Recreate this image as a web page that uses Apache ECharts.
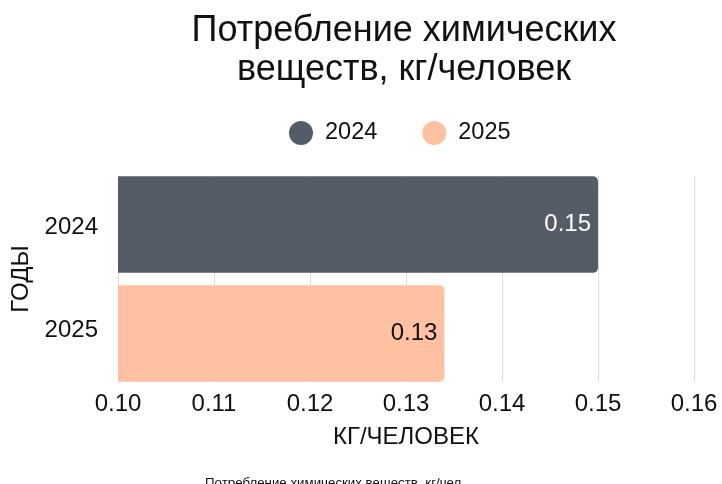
<!DOCTYPE html>
<html><head><meta charset="utf-8">
<script src="https://cdn.jsdelivr.net/npm/echarts@6/dist/echarts.min.js"></script>
<style>html,body{margin:0;padding:0;background:#fff}#c{width:722px;height:484px}</style>
</head><body><div id="c"></div>
<script>
const categories = ['2024', '2025'];
const seriesNames = ['2024', '2025'];
const values2024 = [0.15, '-'];
const values2025 = ['-', 0.134];
const xTicks = [0.10, 0.11, 0.12, 0.13, 0.14, 0.15, 0.16];
const colors = ['#545d67', '#ffc1a2'];
const labelColors = ['#ffffff', '#111111'];

const chart = echarts.init(document.getElementById('c'));
const font = "'Liberation Sans', Arial, sans-serif";
chart.setOption({
  animation: false,
  textStyle: { fontFamily: font },
  title: [{
    text: 'Потребление химических\nвеществ, кг/человек',
    left: 399, top: 7, textAlign: 'center',
    textStyle: { fontSize: 36, fontWeight: 'normal', color: '#111', lineHeight: 39, fontFamily: font }
  }, {
    text: 'Потребление химических веществ, кг/чел.',
    left: 330, top: 472, textAlign: 'center',
    textStyle: { fontSize: 13.3, fontWeight: 'normal', color: '#111', fontFamily: font }
  }],
  legend: {
    data: seriesNames, left: 289, top: 121, padding: 0,
    icon: 'circle', itemWidth: 24, itemHeight: 24, itemGap: 45,
    textStyle: { fontSize: 23.5, color: '#111', fontFamily: font, padding: [0, 0, 0, 7] }
  },
  grid: { left: 118, right: 28, top: 176, height: 206 },
  xAxis: {
    type: 'value', min: xTicks[0], max: xTicks[xTicks.length - 1], interval: 0.01,
    name: 'КГ/ЧЕЛОВЕК', nameLocation: 'middle', nameGap: 43,
    nameTextStyle: { fontSize: 24, color: '#111' },
    axisLabel: { fontSize: 24, color: '#111', margin: 10, formatter: v => v.toFixed(2) },
    axisLine: { show: false }, axisTick: { show: false },
    splitLine: { lineStyle: { color: '#dddddd', width: 1 } }
  },
  yAxis: {
    type: 'category', data: categories, inverse: true,
    name: 'ГОДЫ', nameLocation: 'middle', nameGap: 85,
    nameTextStyle: { fontSize: 24, color: '#111' },
    axisLabel: { fontSize: 24, color: '#111', margin: 20 },
    axisLine: { show: false }, axisTick: { show: false }
  },
  series: [values2024, values2025].map((d, i) => ({
    name: seriesNames[i], type: 'bar', data: d, barWidth: 96.5, barGap: '-94%',
    itemStyle: { color: colors[i], borderRadius: [0, 5, 5, 0] },
    label: {
      show: true, position: 'insideRight', distance: 7, fontSize: 24, color: labelColors[i],
      formatter: p => p.value.toFixed(2)
    }
  }))
});
</script></body></html>
